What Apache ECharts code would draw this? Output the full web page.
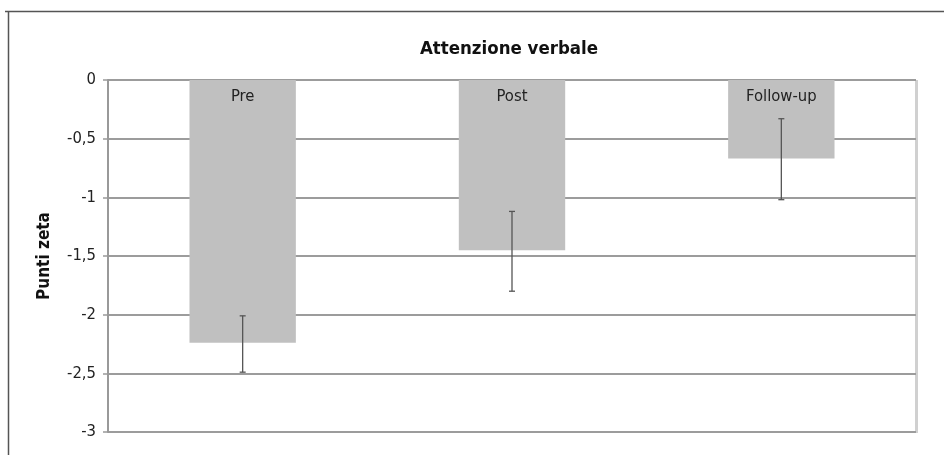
<!DOCTYPE html>
<html><head><meta charset="utf-8">
<script src="https://cdn.jsdelivr.net/npm/echarts@6/dist/echarts.min.js"></script>
<style>html,body{margin:0;padding:0;background:#fff}#c{width:944px;height:455px}</style>
</head><body><div id="c"></div>
<script>
const categories = ['Pre', 'Post', 'Follow-up'];
const means = [-2.24, -1.45, -0.67];
const errHigh = [-2.01, -1.12, -0.33];
const errLow = [-2.49, -1.80, -1.02];
const yTicks = [0, -0.5, -1, -1.5, -2, -2.5, -3];

const font = '"DejaVu Sans Condensed", "DejaVu Sans", sans-serif';
const chart = echarts.init(document.getElementById('c'));
chart.setOption({
  animation: false,
  backgroundColor: '#fff',
  title: {
    text: 'Attenzione verbale', left: 504, top: 35, textAlign: 'center',
    textStyle: {fontFamily: font, fontWeight: 'bold', fontSize: 18.5, color: '#111'}
  },
  grid: {left: 108, right: 28, top: 80, bottom: 23},
  graphic: [
    {type: 'line', shape: {x1: 5, y1: 11.5, x2: 944, y2: 11.5}, style: {stroke: '#555', lineWidth: 1.5}},
    {type: 'line', shape: {x1: 8.5, y1: 11, x2: 8.5, y2: 455}, style: {stroke: '#555', lineWidth: 1.5}},
    {type: 'line', shape: {x1: 916.5, y1: 80, x2: 916.5, y2: 433}, style: {stroke: '#d0d0d0', lineWidth: 3}}
  ],
  xAxis: {
    type: 'category', data: categories, position: 'top',
    axisLine: {show: false}, axisTick: {show: false}, axisLabel: {show: false}
  },
  yAxis: {
    type: 'value', min: -3, max: 0, interval: 0.5,
    name: 'Punti zeta', nameLocation: 'middle', nameGap: 55, nameRotate: 90,
    nameTextStyle: {fontFamily: font, fontWeight: 'bold', fontSize: 17, color: '#111'},
    axisLine: {show: true, lineStyle: {color: '#999', width: 2}},
    axisTick: {show: true, length: 5, lineStyle: {color: '#999', width: 1.5}},
    axisLabel: {
      fontFamily: font, fontSize: 16.5, color: '#222', margin: 12,
      formatter: v => String(v).replace('.', ',')
    },
    splitLine: {show: true, lineStyle: {color: '#9c9c9c', width: 2}}
  },
  series: [
    {
      type: 'bar', data: means, barWidth: '39.5%',
      itemStyle: {color: '#c0c0c0'},
      label: {
        show: true, position: 'insideTop', distance: 8,
        formatter: p => p.name,
        fontFamily: font, fontSize: 16.5, color: '#222'
      },
      z: 2
    },
    {
      type: 'custom', z: 5,
      data: categories.map((c, i) => [i, errLow[i], errHigh[i]]),
      renderItem: function (params, api) {
        const lo = api.coord([api.value(0), api.value(1)]);
        const hi = api.coord([api.value(0), api.value(2)]);
        const w = 3;
        return {
          type: 'group', children: [
            {type: 'line', shape: {x1: lo[0], y1: lo[1], x2: hi[0], y2: hi[1]}, style: {stroke: '#555', lineWidth: 1.3}},
            {type: 'line', shape: {x1: lo[0] - w, y1: lo[1], x2: lo[0] + w, y2: lo[1]}, style: {stroke: '#555', lineWidth: 1.3}},
            {type: 'line', shape: {x1: hi[0] - w, y1: hi[1], x2: hi[0] + w, y2: hi[1]}, style: {stroke: '#555', lineWidth: 1.3}}
          ]
        };
      }
    }
  ]
});
</script></body></html>
